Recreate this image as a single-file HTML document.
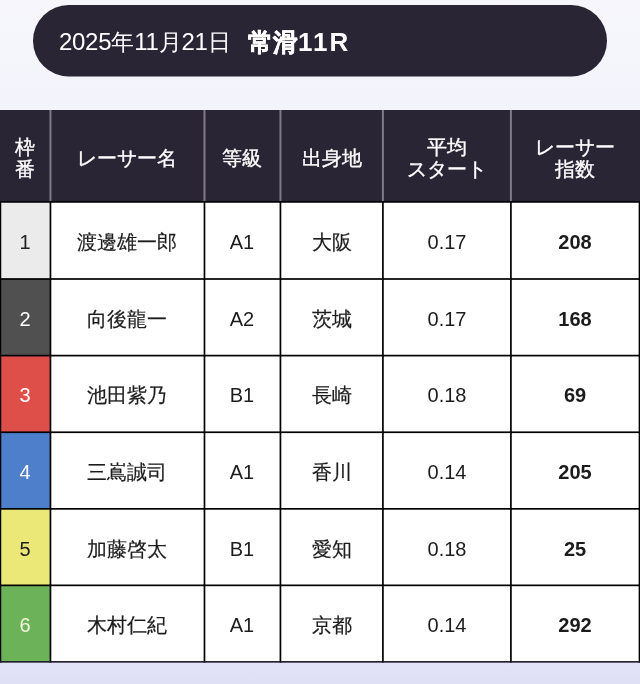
<!DOCTYPE html>
<html lang="ja">
<head>
<meta charset="utf-8">
<style>
html,body{margin:0;padding:0;}
body{width:640px;height:684px;overflow:hidden;position:relative;
  background:linear-gradient(180deg,#f6f6fc 0%,#f3f4fb 16%,#e9e9f8 70%,#e1e1f7 97%,#dfdff6 100%);
  font-family:"Liberation Sans",sans-serif;color:#222;}
.a{position:absolute;}
.t{position:absolute;white-space:nowrap;transform:translateX(-50%);will-change:transform;}
.h{color:#fff;font-size:20px;line-height:22px;text-align:center;-webkit-text-stroke:0.35px #fff;}
.c{color:#1c1c1c;font-size:20px;line-height:24px;text-align:center;}
.d{font-size:20px;letter-spacing:0px;}
.b{font-weight:bold;}
</style>
</head>
<body>

<svg class="a" style="left:0;top:0" width="640" height="684" viewBox="0 0 640 684" shape-rendering="geometricPrecision"><rect x="33" y="5" width="574" height="71.5" rx="35.75" ry="35.75" fill="#2a2535"/><rect x="0" y="110" width="640" height="92" fill="#2a2535"/><rect x="49.45" y="110" width="2" height="92" fill="#7f7a88"/><rect x="203.47" y="110" width="2" height="92" fill="#7f7a88"/><rect x="279.44" y="110" width="2" height="92" fill="#7f7a88"/><rect x="381.9" y="110" width="2" height="92" fill="#7f7a88"/><rect x="509.9" y="110" width="2" height="92" fill="#7f7a88"/><rect x="0" y="201.9" width="640" height="459.95000000000005" fill="#fff"/><rect x="0" y="201.9" width="50.45" height="77.1" fill="#ebebeb"/><rect x="0" y="279.0" width="50.45" height="76.60000000000002" fill="#505050"/><rect x="0" y="355.6" width="50.45" height="76.64999999999998" fill="#df4f49"/><rect x="0" y="432.25" width="50.45" height="76.60000000000002" fill="#4d7fcb"/><rect x="0" y="508.85" width="50.45" height="76.5" fill="#ebe877"/><rect x="0" y="585.35" width="50.45" height="76.5" fill="#6bb258"/><rect x="-0.44999999999999996" y="201.9" width="1.7" height="460.75" fill="#000"/><rect x="49.6" y="201.9" width="1.7" height="460.75" fill="#000"/><rect x="203.62" y="201.9" width="1.7" height="460.75" fill="#000"/><rect x="279.59" y="201.9" width="1.7" height="460.75" fill="#000"/><rect x="382.04999999999995" y="201.9" width="1.7" height="460.75" fill="#000"/><rect x="510.04999999999995" y="201.9" width="1.7" height="460.75" fill="#000"/><rect x="638.65" y="201.9" width="1.7" height="460.75" fill="#000"/><rect x="0" y="201.05" width="640" height="1.7" fill="#000"/><rect x="0" y="278.15" width="640" height="1.7" fill="#000"/><rect x="0" y="354.75" width="640" height="1.7" fill="#000"/><rect x="0" y="431.4" width="640" height="1.7" fill="#000"/><rect x="0" y="508.0" width="640" height="1.7" fill="#000"/><rect x="0" y="584.5" width="640" height="1.7" fill="#000"/><rect x="0" y="661.0500000000001" width="640" height="1.6" fill="#1c1a26"/></svg>
<div class="a" style="left:59px;top:27px;color:#fff;white-space:nowrap;line-height:30px;will-change:transform"><span style="font-size:24px;letter-spacing:-0.3px">2025</span><span style="font-size:23px">年</span><span style="font-size:24px;letter-spacing:-0.3px">11</span><span style="font-size:23px">月</span><span style="font-size:24px;letter-spacing:-0.3px">21</span><span style="font-size:23px">日</span></div>
<div class="a b" style="left:248px;top:27px;color:#fff;white-space:nowrap;line-height:30px;will-change:transform"><span style="font-size:24.5px;-webkit-text-stroke:0.5px #fff">常滑</span><span style="font-size:26px;letter-spacing:2px">11R</span></div>
<div class="t h" style="left:25.425px;top:135.7px">枠<br>番</div>
<div class="t h" style="left:127.46000000000001px;top:146.7px">レーサー名</div>
<div class="t h" style="left:242.45499999999998px;top:146.7px">等級</div>
<div class="t h" style="left:331.66999999999996px;top:146.7px">出身地</div>
<div class="t h" style="left:446.9px;top:135.7px">平均<br>スタート</div>
<div class="t h" style="left:575.2px;top:135.7px">レーサー<br>指数</div>
<div class="t c" style="left:25.425px;top:229.95px;color:#222;"><span class="d">1</span></div>
<div class="t c" style="left:127.46000000000001px;top:229.95px;-webkit-text-stroke:0.2px #1c1c1c;">渡邊雄一郎</div>
<div class="t c" style="left:242.45499999999998px;top:229.95px;"><span class="d">A1</span></div>
<div class="t c" style="left:331.66999999999996px;top:229.95px;-webkit-text-stroke:0.2px #1c1c1c;">大阪</div>
<div class="t c" style="left:446.9px;top:229.95px;"><span class="d">0.17</span></div>
<div class="t c b" style="left:575.2px;top:229.95px;"><span class="d">208</span></div>
<div class="t c" style="left:25.425px;top:306.8px;color:#fff;"><span class="d">2</span></div>
<div class="t c" style="left:127.46000000000001px;top:306.8px;-webkit-text-stroke:0.2px #1c1c1c;">向後龍一</div>
<div class="t c" style="left:242.45499999999998px;top:306.8px;"><span class="d">A2</span></div>
<div class="t c" style="left:331.66999999999996px;top:306.8px;-webkit-text-stroke:0.2px #1c1c1c;">茨城</div>
<div class="t c" style="left:446.9px;top:306.8px;"><span class="d">0.17</span></div>
<div class="t c b" style="left:575.2px;top:306.8px;"><span class="d">168</span></div>
<div class="t c" style="left:25.425px;top:383.425px;color:#fff;"><span class="d">3</span></div>
<div class="t c" style="left:127.46000000000001px;top:383.425px;-webkit-text-stroke:0.2px #1c1c1c;">池田紫乃</div>
<div class="t c" style="left:242.45499999999998px;top:383.425px;"><span class="d">B1</span></div>
<div class="t c" style="left:331.66999999999996px;top:383.425px;-webkit-text-stroke:0.2px #1c1c1c;">長崎</div>
<div class="t c" style="left:446.9px;top:383.425px;"><span class="d">0.18</span></div>
<div class="t c b" style="left:575.2px;top:383.425px;"><span class="d">69</span></div>
<div class="t c" style="left:25.425px;top:460.05px;color:#fff;"><span class="d">4</span></div>
<div class="t c" style="left:127.46000000000001px;top:460.05px;-webkit-text-stroke:0.2px #1c1c1c;">三嶌誠司</div>
<div class="t c" style="left:242.45499999999998px;top:460.05px;"><span class="d">A1</span></div>
<div class="t c" style="left:331.66999999999996px;top:460.05px;-webkit-text-stroke:0.2px #1c1c1c;">香川</div>
<div class="t c" style="left:446.9px;top:460.05px;"><span class="d">0.14</span></div>
<div class="t c b" style="left:575.2px;top:460.05px;"><span class="d">205</span></div>
<div class="t c" style="left:25.425px;top:536.6px;color:#222;"><span class="d">5</span></div>
<div class="t c" style="left:127.46000000000001px;top:536.6px;-webkit-text-stroke:0.2px #1c1c1c;">加藤啓太</div>
<div class="t c" style="left:242.45499999999998px;top:536.6px;"><span class="d">B1</span></div>
<div class="t c" style="left:331.66999999999996px;top:536.6px;-webkit-text-stroke:0.2px #1c1c1c;">愛知</div>
<div class="t c" style="left:446.9px;top:536.6px;"><span class="d">0.18</span></div>
<div class="t c b" style="left:575.2px;top:536.6px;"><span class="d">25</span></div>
<div class="t c" style="left:25.425px;top:613.1px;color:#f4f4dc;"><span class="d">6</span></div>
<div class="t c" style="left:127.46000000000001px;top:613.1px;-webkit-text-stroke:0.2px #1c1c1c;">木村仁紀</div>
<div class="t c" style="left:242.45499999999998px;top:613.1px;"><span class="d">A1</span></div>
<div class="t c" style="left:331.66999999999996px;top:613.1px;-webkit-text-stroke:0.2px #1c1c1c;">京都</div>
<div class="t c" style="left:446.9px;top:613.1px;"><span class="d">0.14</span></div>
<div class="t c b" style="left:575.2px;top:613.1px;"><span class="d">292</span></div>
</body>
</html>
